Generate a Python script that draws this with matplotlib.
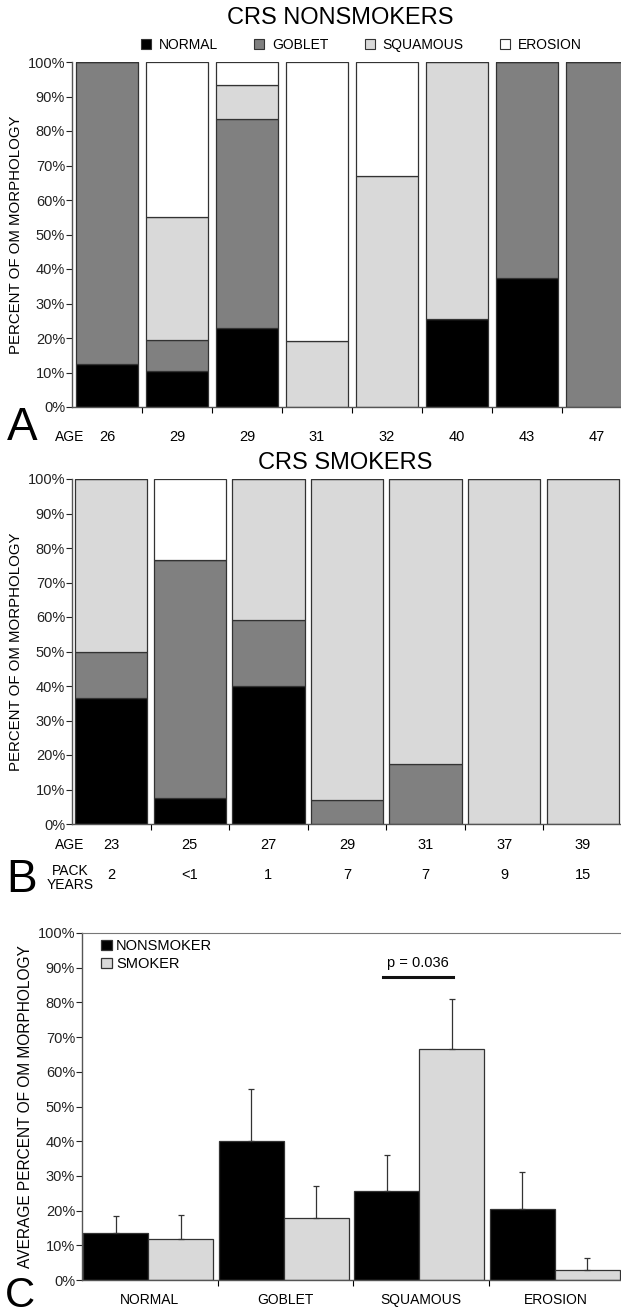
import numpy as np
import matplotlib
matplotlib.use("Agg")
import matplotlib.pyplot as plt
from matplotlib.lines import Line2D

plt.rcParams['font.family'] = ['Liberation Sans', 'DejaVu Sans']

# ---- data -------------------------------------------------------------
morph_names = ["NORMAL", "GOBLET", "SQUAMOUS", "EROSION"]
morph_colors = ["#000000", "#808080", "#d9d9d9", "#ffffff"]

# panel A: CRS nonsmokers (percent of OM morphology per patient)
ages_a = ["26", "29", "29", "31", "32", "40", "43", "47"]
normal_a = [12.5, 10.5, 23.0, 0, 0, 25.5, 37.5, 0]
goblet_a = [87.5, 9.0, 60.5, 0, 0, 0, 62.5, 100]
squamous_a = [0, 35.5, 9.8, 19.0, 67.0, 74.5, 0, 0]
erosion_a = [0, 45.0, 6.7, 81.0, 33.0, 0, 0, 0]

# panel B: CRS smokers
ages_b = ["23", "25", "27", "29", "31", "37", "39"]
pack_years_b = ["2", "<1", "1", "7", "7", "9", "15"]
normal_b = [36.5, 7.5, 40.0, 0, 0, 0, 0]
goblet_b = [13.5, 69.0, 19.0, 7.0, 17.5, 0, 0]
squamous_b = [50.0, 0, 41.0, 93.0, 82.5, 100, 100]
erosion_b = [0, 23.5, 0, 0, 0, 0, 0]

# panel C: averages with SE
nonsmoker_avg = [13.5, 40.0, 25.6, 20.6]
nonsmoker_err = [4.8, 15.0, 10.5, 10.5]
smoker_avg = [11.8, 17.8, 66.7, 3.0]
smoker_err = [6.9, 9.2, 14.3, 3.3]

W, H = 621, 1315
EDGE = "#333333"


def fx(px):
    return px / W


def fy(py):
    return 1 - py / H


def pct_axis(ax):
    ax.set_ylim(0, 100)
    ax.set_yticks(np.arange(0, 101, 10))
    ax.set_yticklabels([f"{v}%" for v in range(0, 101, 10)], fontsize=10.5)
    ax.tick_params(axis='y', length=4, width=0.8, pad=1, colors="#222222")
    ax.tick_params(axis='x', length=4, width=0.8, labelbottom=False)
    for s in ["top", "right"]:
        ax.spines[s].set_visible(False)
    for s in ["left", "bottom"]:
        ax.spines[s].set_color("#555555")
        ax.spines[s].set_linewidth(1.0)


def stacked(ax, stacks, n, width):
    x = np.arange(n)
    bottom = np.zeros(n)
    for vals, col in zip(stacks, morph_colors):
        vals = np.array(vals, dtype=float)
        ax.bar(x, vals, width, bottom=bottom, color=col, edgecolor=EDGE,
               linewidth=0.9)
        bottom += vals
    ax.set_xlim(-0.5, n - 0.5)
    ax.set_xticks(np.arange(n - 1) + 0.5)


fig = plt.figure(figsize=(W / 100, H / 100), dpi=100)

# ---- panel A ----------------------------------------------------------
axA = fig.add_axes([fx(72), fy(407), fx(632 - 72), (407 - 62) / H])
stacked(axA, [normal_a, goblet_a, squamous_a, erosion_a], len(ages_a), 0.89)
pct_axis(axA)
axA.set_ylabel("PERCENT OF OM MORPHOLOGY", fontsize=10.8, labelpad=3)
for i, a in enumerate(ages_a):
    axA.text(i, -30 / 345, a, transform=axA.get_xaxis_transform(),
             ha="center", va="center", fontsize=10.5)
fig.text(fx(70), fy(437), "AGE", ha="center", va="center", fontsize=10)
fig.text(fx(22), fy(428), "A", ha="center", va="center", fontsize=33)
fig.text(fx(340), fy(18), "CRS NONSMOKERS", ha="center", va="center",
         fontsize=17)
handles = [Line2D([], [], marker="s", ls="none", markersize=6.5,
                  markerfacecolor=c, markeredgecolor="#333333",
                  markeredgewidth=0.8) for c in morph_colors]
fig.legend(handles, morph_names, loc="center", bbox_to_anchor=(fx(361), fy(45)),
           ncol=4, frameon=False, fontsize=10, handlelength=0.8,
           handletextpad=0.5, columnspacing=2.6, borderaxespad=0)

# ---- panel B ----------------------------------------------------------
axB = fig.add_axes([fx(72), fy(824), fx(622 - 72), (824 - 479) / H])
stacked(axB, [normal_b, goblet_b, squamous_b, erosion_b], len(ages_b), 0.92)
pct_axis(axB)
axB.set_ylabel("PERCENT OF OM MORPHOLOGY", fontsize=10.8, labelpad=3)
for i, (a, p) in enumerate(zip(ages_b, pack_years_b)):
    axB.text(i, -21 / 345, a, transform=axB.get_xaxis_transform(),
             ha="center", va="center", fontsize=10.5)
    axB.text(i, -51 / 345, p, transform=axB.get_xaxis_transform(),
             ha="center", va="center", fontsize=10.5)
fig.text(fx(70), fy(845), "AGE", ha="center", va="center", fontsize=10)
fig.text(fx(70), fy(878), "PACK\nYEARS", ha="center", va="center",
         fontsize=10, linespacing=1.0)
fig.text(fx(22), fy(880), "B", ha="center", va="center", fontsize=33)
fig.text(fx(345), fy(463), "CRS SMOKERS", ha="center", va="center",
         fontsize=17)

# ---- panel C ----------------------------------------------------------
axC = fig.add_axes([fx(82), fy(1280), fx(624 - 82), (1280 - 933) / H])
xc = np.arange(len(morph_names))
bw = 0.48
axC.bar(xc - bw / 2 - 0.01, nonsmoker_avg, bw, color="#000000",
        edgecolor=EDGE, linewidth=0.9, label="NONSMOKER")
axC.bar(xc + bw / 2 - 0.01, smoker_avg, bw, color="#d9d9d9",
        edgecolor=EDGE, linewidth=0.9, label="SMOKER")
axC.errorbar(xc - bw / 2 - 0.01, nonsmoker_avg,
             yerr=[np.zeros(4), nonsmoker_err], fmt="none", ecolor="#333333",
             elinewidth=0.9, capsize=2.5, capthick=0.9)
axC.errorbar(xc + bw / 2 - 0.01, smoker_avg,
             yerr=[np.zeros(4), smoker_err], fmt="none", ecolor="#333333",
             elinewidth=0.9, capsize=2.5, capthick=0.9)
axC.set_xlim(-0.5, len(morph_names) - 0.5)
axC.set_xticks(np.arange(len(morph_names) - 1) + 0.5)
pct_axis(axC)
axC.spines["top"].set_visible(True)
axC.spines["top"].set_color("#777777")
axC.spines["top"].set_linewidth(0.8)
axC.set_ylabel("AVERAGE PERCENT OF OM MORPHOLOGY", fontsize=11.2, labelpad=3)
for i, m in enumerate(morph_names):
    axC.text(i, -20 / 347, m, transform=axC.get_xaxis_transform(),
             ha="center", va="center", fontsize=10)
axC.legend(loc="upper left", bbox_to_anchor=(0.025, 1.0), frameon=False,
           fontsize=10.5, handlelength=0.7, handleheight=0.7,
           handletextpad=0.3, labelspacing=0.3, borderaxespad=0)
# significance bar between nonsmoker and smoker squamous
axC.plot([1.72, 2.24], [87.2, 87.2], color="#111111", lw=2.2)
axC.text(1.98, 91.4, "p = 0.036", ha="center", va="center", fontsize=10.5)
fig.text(fx(20), fy(1296), "C", ha="center", va="center", fontsize=30)

fig.savefig("out.png", dpi=100)
